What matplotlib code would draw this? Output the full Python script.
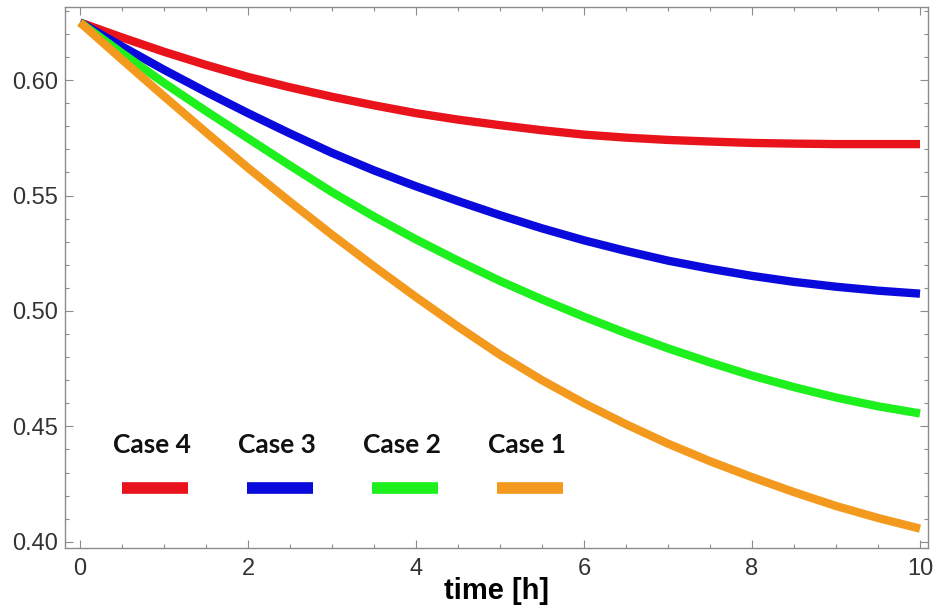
import matplotlib
matplotlib.use("Agg")
import matplotlib.pyplot as plt
from matplotlib.ticker import MultipleLocator

# --- data (every half hour) ------------------------------------------------
time_h = [0, 0.5, 1, 1.5, 2, 2.5, 3, 3.5, 4, 4.5, 5,
          5.5, 6, 6.5, 7, 7.5, 8, 8.5, 9, 9.5, 10]
case4 = [0.6250, 0.6185, 0.6123, 0.6066, 0.6014, 0.5969, 0.5928, 0.5891,
         0.5857, 0.5829, 0.5805, 0.5783, 0.5764, 0.5751, 0.5741, 0.5734,
         0.5728, 0.5725, 0.5723, 0.5723, 0.5723]
case3 = [0.6250, 0.6146, 0.6045, 0.5949, 0.5857, 0.5769, 0.5685, 0.5609,
         0.5540, 0.5476, 0.5415, 0.5358, 0.5306, 0.5260, 0.5218, 0.5183,
         0.5152, 0.5126, 0.5105, 0.5088, 0.5075]
case2 = [0.6250, 0.6117, 0.5988, 0.5866, 0.5748, 0.5630, 0.5515, 0.5409,
         0.5310, 0.5218, 0.5130, 0.5050, 0.4975, 0.4904, 0.4838, 0.4777,
         0.4720, 0.4670, 0.4625, 0.4587, 0.4556]
case1 = [0.6250, 0.6089, 0.5930, 0.5774, 0.5620, 0.5473, 0.5330, 0.5193,
         0.5060, 0.4932, 0.4810, 0.4700, 0.4600, 0.4509, 0.4425, 0.4349,
         0.4280, 0.4215, 0.4155, 0.4103, 0.4057]

labels = ["Case 4", "Case 3", "Case 2", "Case 1"]
series = [case4, case3, case2, case1]
colors = ["#e8131b", "#0a0adc", "#1ef01e", "#f39a1e"]

# --- figure ---------------------------------------------------------------
fig = plt.figure(figsize=(9.33, 6.09), dpi=100)
ax = fig.add_axes([65 / 933, 1 - 548 / 609, 863 / 933, 541 / 609])

for ys, c in zip(series, colors):
    ax.plot(time_h, ys, color=c, lw=6.0, solid_capstyle="butt",
            solid_joinstyle="round")

ax.set_xlim(-0.179, 10.095)
ax.set_ylim(0.3973, 0.6317)

# Mathematica-style frame: inward ticks on all four sides
ax.xaxis.set_major_locator(MultipleLocator(2))
ax.xaxis.set_minor_locator(MultipleLocator(0.5))
ax.yaxis.set_major_locator(MultipleLocator(0.05))
ax.yaxis.set_minor_locator(MultipleLocator(0.01))
ax.yaxis.set_major_formatter(plt.FormatStrFormatter("%.2f"))

frame = "#8c8c8c"
for s in ax.spines.values():
    s.set_color(frame)
    s.set_linewidth(1.0)
ax.tick_params(which="both", direction="in", top=True, right=True,
               color=frame, width=0.8, labelcolor="#333333")
ax.tick_params(which="major", length=6)
ax.tick_params(which="minor", length=3)
ax.tick_params(axis="both", which="major", labelsize=17,
               labelfontfamily="Liberation Sans")
ax.tick_params(axis="y", pad=5)
ax.tick_params(axis="x", pad=7)

ax.set_xlabel("time [h]", fontsize=21, fontweight="bold",
              family="Liberation Sans", labelpad=-2)

# --- hand-made legend: label above a short thick swatch ---------------------
x0, step, half = 0.1043, 0.1448, 0.0382
for i, (lab, c) in enumerate(zip(labels, colors)):
    xc = x0 + i * step
    ax.text(xc - 0.003, 0.1756, lab, transform=ax.transAxes, ha="center",
            va="baseline", fontsize=19, fontweight="bold", family="Lato",
            color="#111111")
    ax.plot([xc - half, xc + half], [0.1118, 0.1118], transform=ax.transAxes,
            color=c, lw=8.4, solid_capstyle="butt", clip_on=False)

fig.savefig("out.png", dpi=100, facecolor="white")
